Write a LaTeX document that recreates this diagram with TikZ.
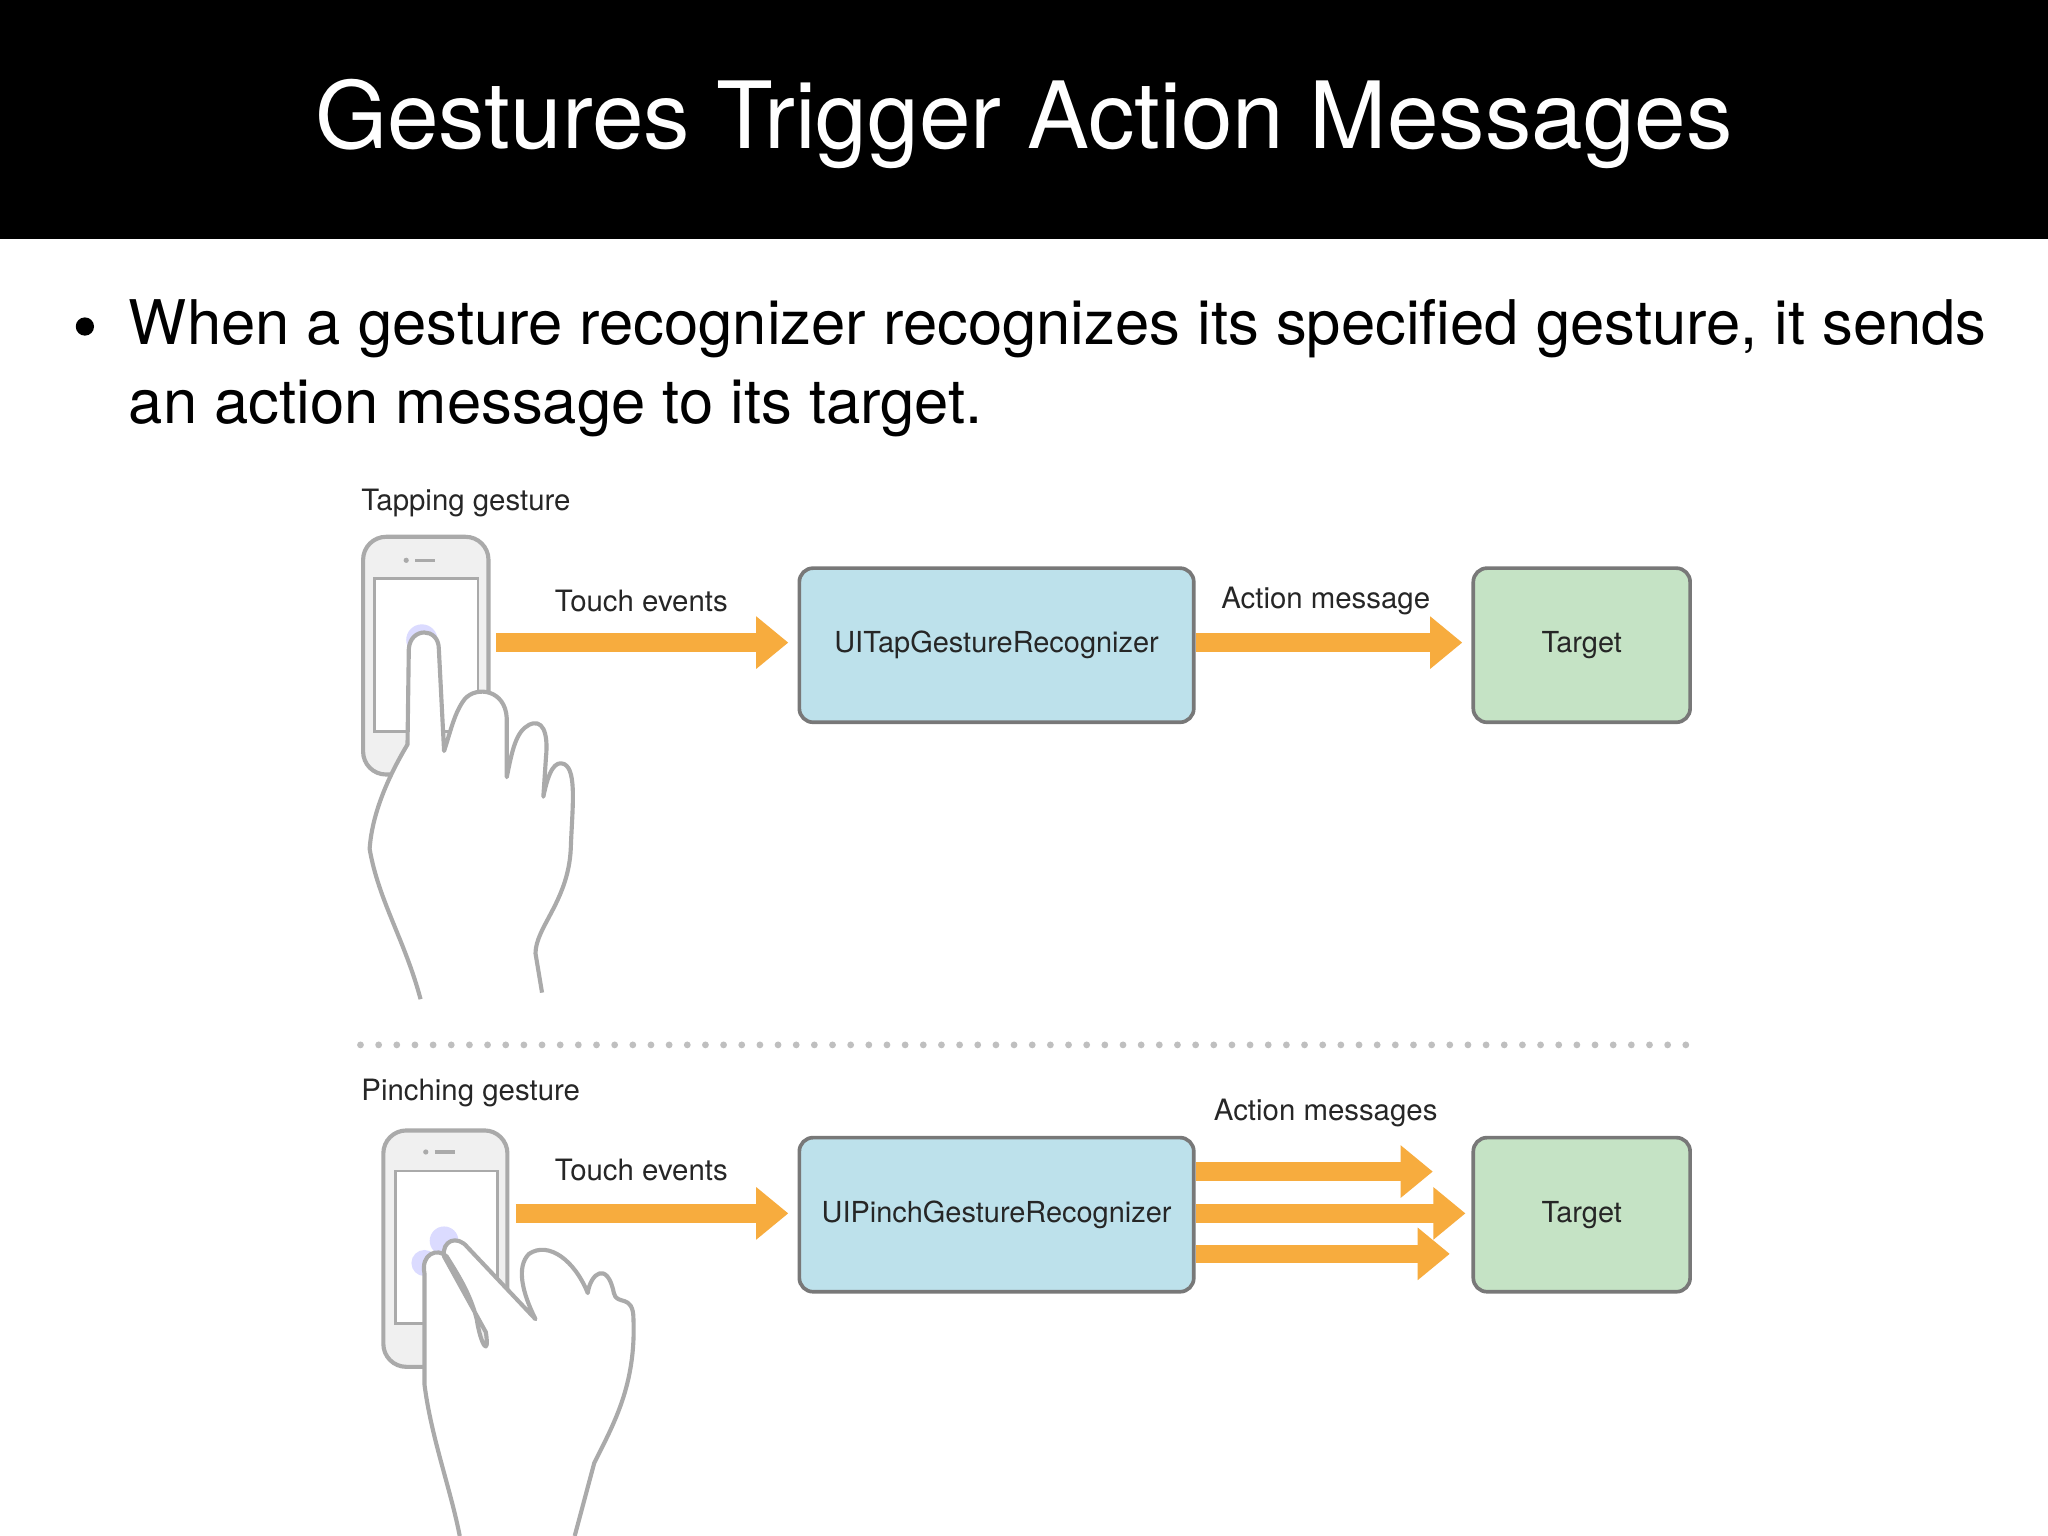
\documentclass[tikz,border=0pt]{standalone}
\usepackage{fontspec}
\setmainfont{TeX Gyre Heros}
\usetikzlibrary{arrows.meta}
\definecolor{orng}{RGB}{247,172,62}
\definecolor{bluebox}{RGB}{189,225,235}
\definecolor{greenbox}{RGB}{197,227,197}
\definecolor{edge}{RGB}{120,120,120}
\definecolor{handc}{RGB}{170,170,170}
\begin{document}
\begin{tikzpicture}[x=0.01cm,y=-0.01cm,
  box/.style={draw=edge,line width=0.8pt,rounded corners=3pt,inner sep=0pt},
  lbl/.style={font=\fontsize{6.4}{7}\selectfont,text=black!85},
  blbl/.style={font=\fontsize{6.3}{7}\selectfont,text=black!85},
  flow/.style={draw=orng,line width=4pt,-{Triangle[length=7pt,width=11pt]}},
  phone/.style={draw=handc,line width=0.9pt,fill=black!6,rounded corners=5pt},
  screen/.style={draw=handc,line width=0.6pt,fill=white},
  hand/.style={draw=handc,line width=0.9pt,fill=white,line join=round}]
\useasboundingbox (0,0) rectangle (1568,1176);
\fill[white] (0,0) rectangle (1568,1176);
\fill[black] (0,0) rectangle (1568,183);
\node[text=white,font=\fontsize{20.2}{23}\selectfont] (title) at (784,95) {Gestures Trigger Action Messages};
\fill (65,250) circle (7);
\node[anchor=west,align=left,font=\fontsize{13.4}{17.2}\selectfont,inner sep=0pt] (bullet) at (98,282)
 {When a gesture recognizer recognizes its specified gesture, it sends\\an action message to its target.};
% top
\node[lbl,anchor=west,inner sep=0pt] (tapl) at (276,385) {Tapping gesture};
\node[phone,minimum width=96*0.01cm,minimum height=182*0.01cm] (ph1) at (326,502) {};
\node[screen,minimum width=79*0.01cm,minimum height=117*0.01cm] (sc1) at (326.5,501.5) {};
\fill[handc] (311,429) circle (2); \draw[handc,line width=0.7pt] (318,429)--(333,429);
\fill[blue!40,opacity=0.35] (323,490) circle (12);
\draw[hand] (322,765) .. controls (310,720) and (290,690) .. (283,650)
  .. controls (285,620) and (300,590) .. (312,570) -- (313,497)
  .. controls (314,480) and (336,480) .. (336,497) -- (340,575)
  .. controls (345,560) and (348,545) .. (356,535)
  .. controls (365,525) and (387,528) .. (388,550) -- (388,595)
  .. controls (392,575) and (395,560) .. (405,555)
  .. controls (415,550) and (420,560) .. (418,580) -- (416,610)
  .. controls (420,590) and (425,582) .. (432,585)
  .. controls (442,590) and (438,620) .. (437,650)
  .. controls (435,690) and (410,710) .. (410,730) -- (415,760);
\node[box,fill=bluebox,minimum width=302*0.01cm,minimum height=118*0.01cm] (tapr) at (763,494) {};
\node[blbl] at (tapr) {UITapGestureRecognizer};
\node[box,fill=greenbox,minimum width=166*0.01cm,minimum height=118*0.01cm] (t1) at (1211,494) {};
\node[blbl] at (t1) {Target};
\coordinate (a1s) at (380,492);
\draw[flow] (a1s) -- ([xshift=-2]tapr.west|-a1s);
\draw[flow] (tapr.east|-a1s) -- ([xshift=-2]t1.west|-a1s);
\node[lbl] at (491,460) {Touch events};
\node[lbl] at (1015,460) {Action message};
% divider
\foreach \i in {0,...,73} \fill[black!25] (276+\i*13.9,800) circle (2.6);
% bottom
\node[lbl,anchor=west,inner sep=0pt] (pinl) at (276,837) {Pinching gesture};
\node[phone,minimum width=95*0.01cm,minimum height=181*0.01cm] (ph2) at (341,956) {};
\node[screen,minimum width=78*0.01cm,minimum height=117*0.01cm] (sc2) at (342,955) {};
\fill[handc] (326,882) circle (2); \draw[handc,line width=0.7pt] (333,882)--(348,882);
\fill[blue!40,opacity=0.35] (340,950) circle (11);
\fill[blue!40,opacity=0.35] (325,967) circle (10);
\draw[hand] (352,1176) .. controls (345,1140) and (330,1100) .. (325,1060)
  -- (325,975) .. controls (322,960) and (335,955) .. (342,962)
  .. controls (350,975) and (360,990) .. (365,1010)
  .. controls (368,1030) and (375,1040) .. (372,1020)
  -- (340,962) .. controls (338,950) and (350,945) .. (358,955)
  -- (410,1010) .. controls (400,990) and (395,970) .. (405,960)
  .. controls (420,950) and (440,965) .. (450,990)
  .. controls (452,975) and (465,965) .. (470,990)
  .. controls (472,1000) and (485,990) .. (485,1010)
  .. controls (487,1060) and (470,1090) .. (455,1120) -- (440,1176);
\node[box,fill=bluebox,minimum width=302*0.01cm,minimum height=118*0.01cm] (pinr) at (763,930) {};
\node[blbl] at (pinr) {UIPinchGestureRecognizer};
\node[box,fill=greenbox,minimum width=166*0.01cm,minimum height=118*0.01cm] (t2) at (1211,930) {};
\node[blbl] at (t2) {Target};
\coordinate (b1s) at (395,929);
\draw[flow] (b1s) -- ([xshift=-2]pinr.west|-b1s);
\coordinate (m1) at (1097,897); \coordinate (m2) at (1122,929); \coordinate (m3) at (1110,960);
\draw[flow] (pinr.east|-m1) -- (m1);
\draw[flow] (pinr.east|-m2) -- (m2);
\draw[flow] (pinr.east|-m3) -- (m3);
\node[lbl] at (491,896) {Touch events};
\node[lbl] at (1015,852) {Action messages};
\end{tikzpicture}
\end{document}
